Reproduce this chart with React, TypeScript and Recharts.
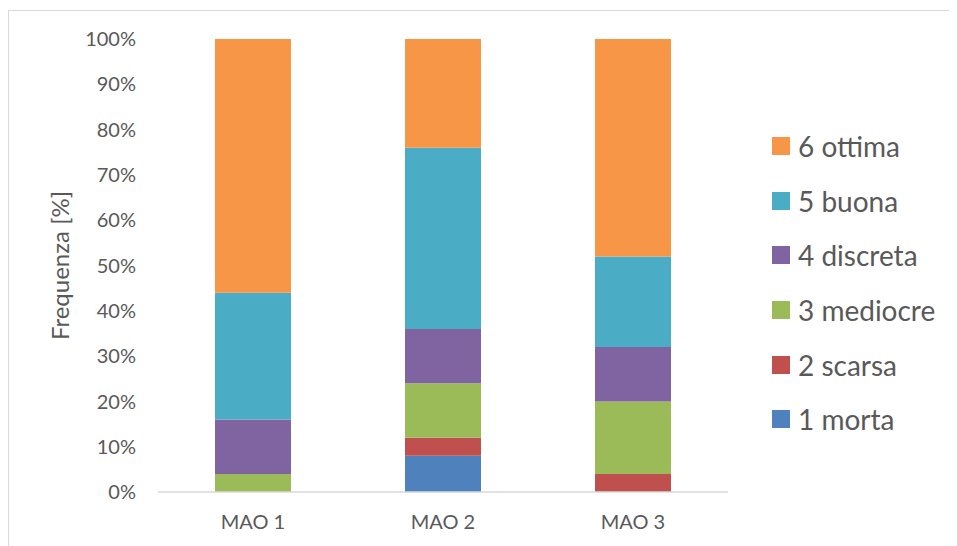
import React from 'react';
import { BarChart, Bar, XAxis, YAxis } from 'recharts';

// Frequency of each score class per site (%), 25 samples per site
const sites = ['MAO 1', 'MAO 2', 'MAO 3'];
const morta = [0, 8, 0];
const scarsa = [0, 4, 4];
const mediocre = [4, 12, 16];
const discreta = [12, 12, 12];
const buona = [28, 40, 20];
const ottima = [56, 24, 48];

const yTicks = [0, 10, 20, 30, 40, 50, 60, 70, 80, 90, 100];

const series = [
  { key: 'morta', name: '1 morta', color: '#4F81BD', values: morta },
  { key: 'scarsa', name: '2 scarsa', color: '#C0504D', values: scarsa },
  { key: 'mediocre', name: '3 mediocre', color: '#9BBB59', values: mediocre },
  { key: 'discreta', name: '4 discreta', color: '#8064A2', values: discreta },
  { key: 'buona', name: '5 buona', color: '#4BACC6', values: buona },
  { key: 'ottima', name: '6 ottima', color: '#F79646', values: ottima },
];

const data = sites.map((site, i) => {
  const row: Record<string, string | number> = { site };
  series.forEach((s) => {
    row[s.key] = s.values[i];
  });
  return row;
});

const FONT = 'Lato, "Noto Sans", sans-serif';
const TEXT = '#595959';

// legend sits to the right of the plot, highest class on top
function LegendBox() {
  return (
    <div style={{ position: 'absolute', left: 763, top: 108, fontFamily: FONT }}>
      {[...series].reverse().map((s) => (
        <div
          key={s.key}
          style={{ display: 'flex', alignItems: 'center', height: 54.6 }}
        >
          <span
            style={{
              width: 18,
              height: 18,
              background: s.color,
              display: 'inline-block',
              marginRight: 8,
            }}
          />
          <span style={{ fontSize: 28, color: TEXT, whiteSpace: 'nowrap' }}>{s.name}</span>
        </div>
      ))}
    </div>
  );
}

export default function App() {
  return (
    <div
      style={{
        position: 'relative',
        marginTop: 2,
        width: 949,
        height: 536,
        borderLeft: '1px solid #d9d9d9',
        borderTop: '1px solid #d9d9d9',
        background: '#fff',
      }}
    >
      <BarChart
        width={948}
        height={535}
        data={data}
        margin={{ top: 28, right: 229, left: 0, bottom: 24 }}
        barCategoryGap="30%"
      >
        <XAxis
          dataKey="site"
          height={30}
          axisLine={{ stroke: '#d9d9d9', strokeWidth: 1.5 }}
          tickLine={false}
          tickMargin={17}
          tick={{ fontSize: 20, fill: TEXT, fontFamily: FONT }}
        />
        <YAxis
          width={149}
          domain={[0, 100]}
          ticks={yTicks}
          interval={0}
          axisLine={false}
          tickLine={false}
          tickMargin={16}
          tickFormatter={(v: number) => `${v}%`}
          tick={{ fontSize: 20, fill: TEXT, fontFamily: FONT }}
          label={{
            value: 'Frequenza [%]',
            angle: -90,
            position: 'insideLeft',
            offset: 51,
            style: { fontSize: 24, fill: TEXT, fontFamily: FONT, textAnchor: 'middle' },
          }}
        />
        {series.map((s) => (
          <Bar
            key={s.key}
            dataKey={s.key}
            name={s.name}
            stackId="a"
            fill={s.color}
            isAnimationActive={false}
          />
        ))}
      </BarChart>
      <LegendBox />
    </div>
  );
}
